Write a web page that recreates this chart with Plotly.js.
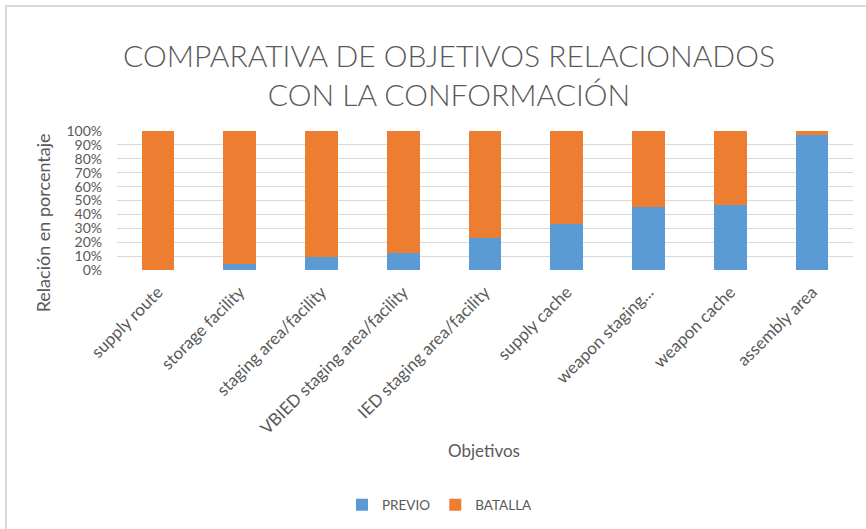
<!DOCTYPE html>
<html>
<head>
<meta charset="utf-8">
<script src="https://cdn.plot.ly/plotly-3.0.1.min.js"></script>
<style>
html,body{margin:0;padding:0;background:#fff;}
#wrap{position:relative;width:866px;height:529px;overflow:hidden;}
#chart{width:866px;height:529px;}
#frame{position:absolute;left:5px;top:5px;width:900px;height:600px;border-top:2px solid #d9d9d9;border-left:2px solid #d9d9d9;pointer-events:none;}
</style>
</head>
<body>
<div id="wrap"><div id="chart"></div><div id="frame"></div></div>
<script>
var categories = ["supply route", "storage facility", "staging area/facility", "VBIED staging area/facility", "IED staging area/facility", "supply cache", "weapon staging...", "weapon cache", "assembly area"];
var previo = [0, 4, 9, 12, 23, 33, 45, 47, 97];
var batalla = [100, 96, 91, 88, 77, 67, 55, 53, 3];
var yTicks = [0, 10, 20, 30, 40, 50, 60, 70, 80, 90, 100];

var FONT = "Lato, 'Open Sans', sans-serif";
var GRAY = "#595959";

var data = [
  {type: "bar", name: "PREVIO", x: categories, y: previo, marker: {color: "#5b9bd5"}, hoverinfo: "y"},
  {type: "bar", name: "BATALLA", x: categories, y: batalla, marker: {color: "#ed7d31"}, hoverinfo: "y"}
];

var layout = {
  width: 866, height: 529,
  margin: {l: 117, r: 13, t: 131, b: 258},
  paper_bgcolor: "#fff", plot_bgcolor: "#fff",
  barmode: "stack",
  bargap: 0.6,
  font: {family: FONT, color: GRAY},
  title: {
    text: "COMPARATIVA DE OBJETIVOS RELACIONADOS<br>CON LA CONFORMACIÓN",
    font: {family: FONT, size: 30, color: GRAY, weight: 300},
    x: 449/866, xref: "container", xanchor: "center",
    y: 1 - 67/529, yref: "container", yanchor: "middle"
  },
  xaxis: {
    tickangle: -45,
    tickfont: {family: FONT, size: 17, color: GRAY},
    ticklabelstandoff: 8,
    showgrid: false, showline: false, ticks: "",
    automargin: false
  },
  yaxis: {
    range: [0, 100],
    tickvals: yTicks,
    ticktext: yTicks.map(function(v){return v + "%";}),
    tickfont: {family: FONT, size: 14, color: GRAY},
    ticklabelstandoff: 14,
    showgrid: true, gridcolor: "#d9d9d9", gridwidth: 1,
    zeroline: false, showline: false, ticks: "",
    automargin: false
  },
  showlegend: true,
  legend: {
    orientation: "h",
    x: (440-117)/736, xanchor: "center",
    y: (271-505)/140, yanchor: "middle",
    itemwidth: 30,
    font: {family: FONT, size: 13.5, color: GRAY},
    traceorder: "normal"
  },
  annotations: [
    {text: "Relación en porcentaje", xref: "paper", yref: "paper",
     x: (43-117)/736, y: (271-224)/140, textangle: -90, showarrow: false,
     xanchor: "center", yanchor: "middle",
     font: {family: FONT, size: 18, color: GRAY}},
    {text: "Objetivos", xref: "paper", yref: "paper",
     x: (484-117)/736, y: (271-453)/140, showarrow: false,
     xanchor: "center", yanchor: "middle",
     font: {family: FONT, size: 17, color: GRAY}}
  ]
};

Plotly.newPlot("chart", data, layout, {displayModeBar: false, staticPlot: true});
</script>
</body>
</html>
